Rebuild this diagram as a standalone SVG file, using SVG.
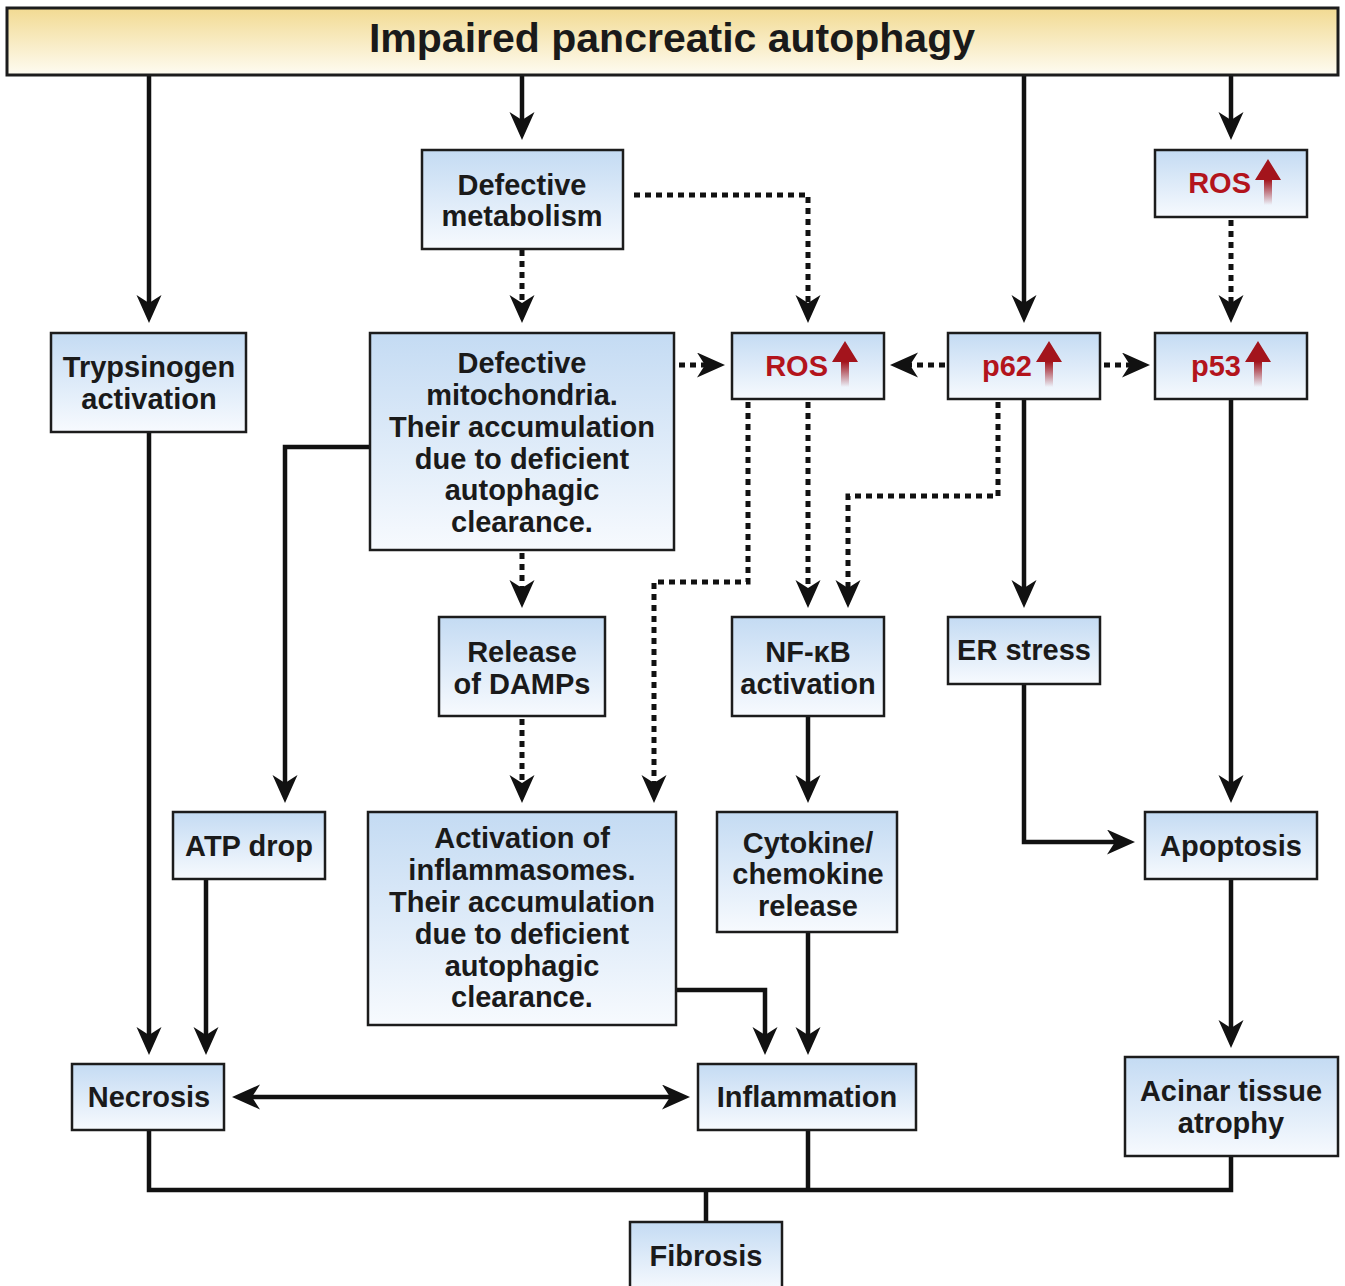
<svg xmlns="http://www.w3.org/2000/svg" width="1345" height="1286" viewBox="0 0 1345 1286">
<defs>
<linearGradient id="gBlue" x1="0" y1="0" x2="0" y2="1">
<stop offset="0" stop-color="#c4dbf3"/><stop offset="1" stop-color="#f7fafe"/>
</linearGradient>
<linearGradient id="gYel" x1="0" y1="0" x2="0" y2="1">
<stop offset="0" stop-color="#f2da92"/><stop offset="1" stop-color="#fefcf2"/>
</linearGradient>
<linearGradient id="gRed" x1="0" y1="0" x2="0" y2="1">
<stop offset="0" stop-color="#a3141c"/><stop offset="0.45" stop-color="#a3141c"/><stop offset="1" stop-color="#a3141c" stop-opacity="0"/>
</linearGradient>
<marker id="ah" markerUnits="userSpaceOnUse" markerWidth="30" markerHeight="26" refX="10" refY="12.5" orient="auto-start-reverse">
<path d="M0,0 L28,12.5 L0,25 L8,12.5 z" fill="#111"/>
</marker>
<symbol id="up" overflow="visible">
<path d="M0,-24 L13,-3 L4,-3 L4,22 L-4,22 L-4,-3 L-13,-3 z" fill="url(#gRed)"/>
</symbol>
</defs>
<style>
.box{fill:url(#gBlue);stroke:#1c1c1c;stroke-width:2.5}
.t{font-family:"Liberation Sans",Arial,sans-serif;font-weight:bold;font-size:29px;fill:#1a1a1a;text-anchor:middle}
.r{font-family:"Liberation Sans",Arial,sans-serif;font-weight:bold;font-size:29px;fill:#b3141c;text-anchor:end}
.s{fill:none;stroke:#111;stroke-width:4.5}
.d{fill:none;stroke:#111;stroke-width:5;stroke-dasharray:6 5}
.a{marker-end:url(#ah)}
</style>
<g id="connectors">
<path class="s a" d="M149,75 V305"/>
<path class="s a" d="M522,75 V122"/>
<path class="s a" d="M1024,75 V305"/>
<path class="s a" d="M1231,75 V122"/>
<path class="d a" d="M522,250 V305"/>
<path class="d a" d="M634,195 H808 V305"/>
<path class="d a" d="M1231,220 V305"/>
<path class="d a" d="M679,365 H707"/>
<path class="d a" d="M945,365 H908"/>
<path class="d a" d="M1104,365 H1132"/>
<path class="d a" d="M748,402 V582 H654 V785"/>
<path class="d a" d="M808,402 V590"/>
<path class="d a" d="M998,402 V496 H848 V590"/>
<path class="s a" d="M1024,399 V590"/>
<path class="s a" d="M1231,399 V785"/>
<path class="s a" d="M149,432 V1037"/>
<path class="s a" d="M370,447 H285 V785"/>
<path class="d a" d="M522,553 V590"/>
<path class="d a" d="M522,719 V785"/>
<path class="s a" d="M808,716 V785"/>
<path class="s a" d="M1024,684 V842 H1117"/>
<path class="s a" d="M206,879 V1037"/>
<path class="s a" d="M676,990 H765 V1037"/>
<path class="s a" d="M808,932 V1037"/>
<path class="s a" d="M250,1097 H672" style="marker-start:url(#ah)"/>
<path class="s a" d="M1231,879 V1030"/>
<path class="s" d="M149,1130 V1190 H1231 V1156 M808,1130 V1190 M706,1190 V1222"/>
</g>
<g id="title">
<rect x="7" y="8" width="1331" height="67" fill="url(#gYel)" stroke="#1c1c1c" stroke-width="3"/>
<text x="672" y="52" class="t" style="font-size:41px">Impaired pancreatic autophagy</text>
</g>
<g id="defective-metabolism">
<rect class="box" x="422" y="150" width="201" height="99"/>
<text class="t" x="522" y="195">Defective</text>
<text class="t" x="522" y="226">metabolism</text>
</g>
<g id="ros-top">
<rect class="box" x="1155" y="150" width="152" height="67"/>
<text class="r" x="1251" y="193">ROS</text>
<use href="#up" x="1268" y="183"/>
</g>
<g id="trypsinogen">
<rect class="box" x="51" y="333" width="195" height="99"/>
<text class="t" x="149" y="377">Trypsinogen</text>
<text class="t" x="149" y="409">activation</text>
</g>
<g id="defective-mitochondria">
<rect class="box" x="370" y="333" width="304" height="217"/>
<text class="t" x="522" y="373">Defective</text>
<text class="t" x="522" y="405">mitochondria.</text>
<text class="t" x="522" y="437">Their accumulation</text>
<text class="t" x="522" y="469">due to deficient</text>
<text class="t" x="522" y="500">autophagic</text>
<text class="t" x="522" y="532">clearance.</text>
</g>
<g id="ros-mid">
<rect class="box" x="732" y="333" width="152" height="66"/>
<text class="r" x="828" y="376">ROS</text>
<use href="#up" x="845" y="365"/>
</g>
<g id="p62">
<rect class="box" x="948" y="333" width="152" height="66"/>
<text class="r" x="1032" y="376">p62</text>
<use href="#up" x="1049" y="365"/>
</g>
<g id="p53">
<rect class="box" x="1155" y="333" width="152" height="66"/>
<text class="r" x="1241" y="376">p53</text>
<use href="#up" x="1258" y="365"/>
</g>
<g id="damps">
<rect class="box" x="439" y="617" width="166" height="99"/>
<text class="t" x="522" y="662">Release</text>
<text class="t" x="522" y="694">of DAMPs</text>
</g>
<g id="nfkb">
<rect class="box" x="732" y="617" width="152" height="99"/>
<text class="t" x="808" y="662">NF-κB</text>
<text class="t" x="808" y="694">activation</text>
</g>
<g id="er-stress">
<rect class="box" x="948" y="617" width="152" height="67"/>
<text class="t" x="1024" y="660">ER stress</text>
</g>
<g id="atp-drop">
<rect class="box" x="173" y="812" width="152" height="67"/>
<text class="t" x="249" y="856">ATP drop</text>
</g>
<g id="inflammasomes">
<rect class="box" x="368" y="812" width="308" height="213"/>
<text class="t" x="522" y="848">Activation of</text>
<text class="t" x="522" y="880">inflammasomes.</text>
<text class="t" x="522" y="912">Their accumulation</text>
<text class="t" x="522" y="944">due to deficient</text>
<text class="t" x="522" y="976">autophagic</text>
<text class="t" x="522" y="1007">clearance.</text>
</g>
<g id="cytokine">
<rect class="box" x="717" y="812" width="180" height="120"/>
<text class="t" x="808" y="853">Cytokine/</text>
<text class="t" x="808" y="884">chemokine</text>
<text class="t" x="808" y="916">release</text>
</g>
<g id="apoptosis">
<rect class="box" x="1145" y="812" width="172" height="67"/>
<text class="t" x="1231" y="856">Apoptosis</text>
</g>
<g id="necrosis">
<rect class="box" x="72" y="1064" width="152" height="66"/>
<text class="t" x="149" y="1107">Necrosis</text>
</g>
<g id="inflammation">
<rect class="box" x="698" y="1064" width="218" height="66"/>
<text class="t" x="807" y="1107">Inflammation</text>
</g>
<g id="acinar">
<rect class="box" x="1125" y="1057" width="213" height="99"/>
<text class="t" x="1231" y="1101">Acinar tissue</text>
<text class="t" x="1231" y="1133">atrophy</text>
</g>
<g id="fibrosis">
<rect class="box" x="630" y="1222" width="152" height="70"/>
<text class="t" x="706" y="1266">Fibrosis</text>
</g>
</svg>
